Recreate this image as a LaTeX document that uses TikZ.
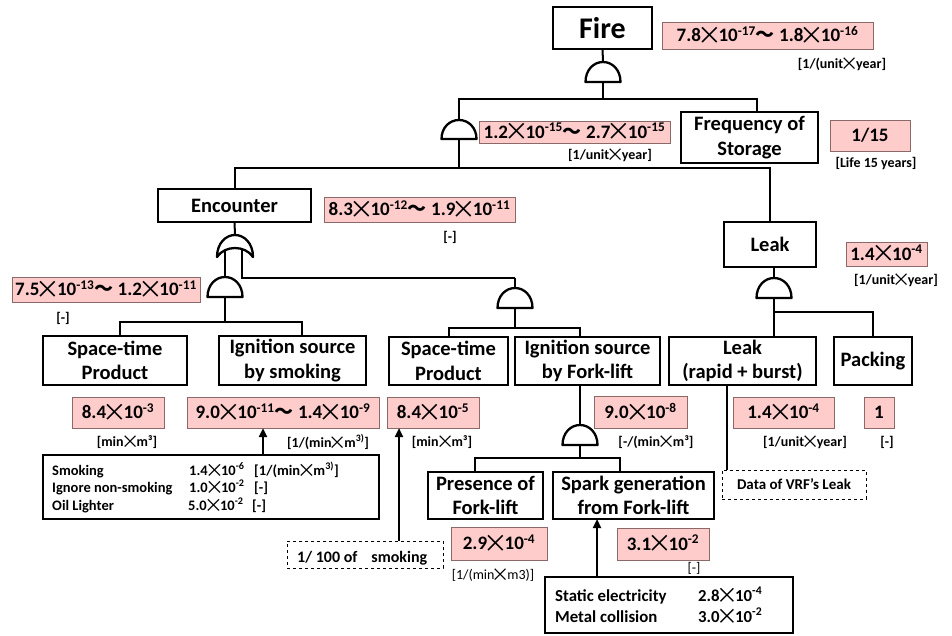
\documentclass[tikz,border=0pt]{standalone}
\usepackage{fontspec}
\usepackage{graphicx}
\setmainfont{Carlito}
\newfontfamily\cjk{Noto Sans CJK JP}
\usetikzlibrary{arrows.meta}
\newcommand\X{\makebox[0.92em]{\raisebox{-0.14em}{\scalebox{1.3}{\cjk\mdseries ×}}}}
\newcommand\W{{\cjk ～}}
\newcommand\E[1]{\textsuperscript{#1}}
\definecolor{pkfill}{RGB}{255,204,204}
\definecolor{pkline}{RGB}{140,105,105}
\newcommand\cbox[7]{\node[#2, minimum width={#5-#3}, minimum height={#6-#4}] (#1) at ({(#3+#5)/2},{(#4+#6)/2}) {#7};}
\newcommand\andg[4]{%
  \draw[gate] ({#2-17.5},#4) .. controls ({#2-17.5},{#4-0.6*(#4-#3)}) and ({#2-9.5},#3) .. (#2,#3) .. controls ({#2+9.5},#3) and ({#2+17.5},{#4-0.6*(#4-#3)}) .. ({#2+17.5},#4) -- cycle;
  \coordinate (#1-t) at (#2,#3); \coordinate (#1-b) at (#2,#4);}
\newcommand\org[4]{%
  \draw[gate] ({#2-18},#4) .. controls ({#2-18},{#3+8}) and ({#2-9},#3) .. (#2,#3) .. controls ({#2+9},#3) and ({#2+18},{#3+8}) .. ({#2+18},#4) .. controls ({#2+10},{#4-12}) and ({#2-10},{#4-12}) .. ({#2-18},#4) -- cycle;
  \coordinate (#1-t) at (#2,#3);}
\tikzset{
  ev/.style={draw, line width=1.3pt, fill=white, inner sep=0pt, outer sep=0pt, align=center, font=\bfseries\fontsize{20.5}{24.5}\selectfont},
  pk/.style={draw=pkline, fill=pkfill, line width=0.9pt, inner sep=0pt, outer sep=0pt, font=\bfseries\fontsize{19}{22}\selectfont},
  un/.style={inner sep=0pt, font=\bfseries\fontsize{14}{16}\selectfont},
  unr/.style={inner sep=0pt, font=\fontsize{14}{16}\selectfont},
  dbox/.style={draw, line width=1.1pt, fill=white, inner sep=0pt, outer sep=0pt},
  dsh/.style={draw, dashed, line width=0.9pt, fill=white, inner sep=0pt, outer sep=0pt},
  tx/.style={inner sep=0pt, anchor=base west, font=\bfseries\fontsize{14.5}{16}\selectfont},
  txb/.style={inner sep=0pt, anchor=base west, font=\bfseries\fontsize{16.8}{19}\selectfont},
  tree/.style={line width=2pt},
  thk/.style={line width=2.8pt},
  gate/.style={draw, line width=2.3pt, fill=white, line join=round},
  arr/.style={line width=2.4pt, -{Triangle[length=9pt,width=8pt]}},
}
\begin{document}
\begin{tikzpicture}[x=1pt,y=-1pt]
\fill[white] (0,0) rectangle (952,635);
\useasboundingbox (0,0) rectangle (952,635);

% ---- event boxes
\cbox{Fire}{ev,font=\bfseries\fontsize{30}{34}\selectfont}{553}{7}{652}{49}{Fire}
\cbox{Freq}{ev}{681}{112}{818}{163}{Frequency of\\Storage}
\cbox{Enc}{ev}{158}{189}{311}{222}{Encounter}
\cbox{Leak}{ev}{724}{222}{816}{267}{Leak}
\cbox{STPa}{ev}{43}{336}{187}{385}{Space-time\\Product}
\cbox{IgnS}{ev}{219}{336}{366}{385}{Ignition source\\by smoking}
\cbox{STPb}{ev}{389}{337}{508}{385}{Space-time\\Product}
\cbox{IgnF}{ev}{515}{337}{660}{385}{Ignition source\\by Fork-lift}
\cbox{LRB}{ev}{669}{337}{816}{385}{Leak\\(rapid + burst)}
\cbox{Pack}{ev}{834}{337}{912}{385}{Packing}
\cbox{Pres}{ev}{428}{472}{543}{519}{Presence of\\Fork-lift}
\cbox{Spark}{ev}{553}{472}{714}{519}{Spark generation\\from Fork-lift}

% ---- pink value boxes
\cbox{Pfire}{pk}{662}{22}{873}{49}{7.8\X10\E{-17}\W\ 1.8\X10\E{-16}}
\cbox{Pand}{pk}{479}{121}{670}{143}{1.2\X10\E{-15}\W\ 2.7\X10\E{-15}}
\cbox{Pfreq}{pk}{830}{120}{910}{151}{1/15}
\cbox{Penc}{pk}{324}{197}{515}{222}{8.3\X10\E{-12}\W\ 1.9\X10\E{-11}}
\cbox{Pleak}{pk}{846}{242}{927}{266}{1.4\X10\E{-4}}
\cbox{Pa2}{pk}{12}{277}{200}{302}{7.5\X10\E{-13}\W\ 1.2\X10\E{-11}}
\cbox{Pstpa}{pk}{72}{397}{164}{428}{8.4\X10\E{-3}}
\cbox{Pign}{pk}{187}{397}{379}{428}{9.0\X10\E{-11}\W\ 1.4\X10\E{-9}}
\cbox{Pstpb}{pk}{387}{397}{479}{428}{8.4\X10\E{-5}}
\cbox{Pfork}{pk}{594}{396}{687}{428}{9.0\X10\E{-8}}
\cbox{Plrb}{pk}{733}{397}{834}{428}{1.4\X10\E{-4}}
\cbox{Ppack}{pk}{864}{397}{894}{428}{1}
\cbox{Ppres}{pk}{451}{527}{547}{560}{2.9\X10\E{-4}}
\cbox{Pspark}{pk}{617}{528}{709}{560}{3.1\X10\E{-2}}

% ---- unit labels
\node[un] (u1) at (842,64) {[1/(unit\X year]};
\node[un] (u2) at (610,155) {[1/unit\X year]};
\node[un] (u3) at (876,163) {[Life 15 years]};
\node[un] (u4) at (450,237) {[-]};
\node[un] (u5) at (896,280) {[1/unit\X year]};
\node[un] (u6) at (63,318) {[-]};
\node[un] (u7) at (127,442) {[min\X m³]};
\node[un] (u8) at (328,442) {[1/(min\X m\E{3)}]};
\node[un] (u9) at (442,442) {[min\X m³]};
\node[un] (u10) at (656,442) {[-/(min\X m³]};
\node[un] (u11) at (805,442) {[1/unit\X year]};
\node[un] (u12) at (887,442) {[-]};
\node[unr] (u13) at (493,575) {[1/(min\X m3)]};
\node[unr] (u14) at (694,568) {[-]};

% ---- detail boxes
\cbox{Smk}{dbox}{43}{455}{379}{519}{}
\node[tx] (s1a) at (52,475) {Smoking};
\node[tx] (s1b) at (189,475) {1.4\X10\E{-6}};
\node[tx] (s1c) at (254,475) {[1/(min\X m\E{3)}]};
\node[tx] (s2a) at (52,492) {Ignore non-smoking};
\node[tx] (s2b) at (189,492) {1.0\X10\E{-2}};
\node[tx] (s2c) at (254,492) {[-]};
\node[tx] (s3a) at (52,510) {Oil Lighter};
\node[tx] (s3b) at (188,510) {5.0\X10\E{-2}};
\node[tx] (s3c) at (252,510) {[-]};

\cbox{D100}{dsh}{287}{541}{443}{568}{}
\node[tx,font=\bfseries\fontsize{16}{18}\selectfont] (d100t) at (297,562) {1/ 100 of\hspace{14pt}smoking};

\cbox{Stat}{dbox}{545}{577}{793}{633}{}
\node[txb] (t1a) at (555,601) {Static electricity};
\node[txb] (t1b) at (698,601) {2.8\X10\E{-4}};
\node[txb] (t2a) at (555,622) {Metal collision};
\node[txb] (t2b) at (698,622) {3.0\X10\E{-2}};

\cbox{VRF}{dsh,font=\bfseries\fontsize{15}{17}\selectfont}{722}{470}{866}{499}{Data of VRF’s Leak}

% ---- gates
\andg{Gf}{603}{62}{82}
\andg{Gtl}{459}{120}{139}
\org{Go}{235}{235}{257}
\andg{Ga2}{225}{277}{297}
\andg{Ga3}{515}{288}{308}
\andg{GL}{774}{278}{298}
\andg{GF}{580}{425}{445}

% ---- junction coordinates
\coordinate (b1) at (603,99);
\coordinate (b2) at (459,168);
\coordinate (oL) at (225,250);
\coordinate (oR) at (242,250);
\coordinate (b3) at (515,278);
\coordinate (b4) at (225,322);
\coordinate (b5) at (515,328);
\coordinate (b6) at (774,312);
\coordinate (b7) at (580,458);

% ---- connectors
\draw[tree] (Fire.south) -- (Gf-t);
\draw[tree] (Gf-b) -- (b1);
\draw[tree] (Gtl-t) |- (b1) -| ([xshift=7pt]Freq.north);
\draw[tree] (Gtl-b) -- (b2);
\draw[tree] (Enc.north) |- (b2) -| (Leak.north);
\draw[tree] (Enc.south) -- (Go-t);
\draw[thk] (oL) -- (Ga2-t);
\draw[thk] (oR) |- (b3);
\draw[tree] (b3) -- (Ga3-t);
\draw[thk] (Ga2-b) -- (b4);
\draw[tree] ([xshift=5pt]STPa.north) |- (b4) -| ([xshift=9.5pt]IgnS.north);
\draw[tree] (Ga3-b) -- (b5);
\draw[tree] (STPb.north) |- (b5) -| ([xshift=-7.5pt]IgnF.north);
\draw[tree] ([xshift=4pt]Leak.south) -- (GL-t);
\draw[tree] (GL-b) -- ([xshift=31.5pt]LRB.north);
\draw[tree] (b6) -| (Pack.north);
\draw[thk] ([xshift=-7.5pt]IgnF.south) -- (GF-t);
\draw[tree] (GF-b) -- (b7);
\draw[tree] ([xshift=-10.5pt]Pres.north) |- (b7) -| ([xshift=-13.5pt]Spark.north);

% ---- arrows
\draw[arr] ([xshift=52pt]Smk.north) -- ([xshift=52pt]Smk.north |- Pign.south);
\draw[arr] ([xshift=34pt]D100.north) -- ([xshift=34pt]D100.north |- Pstpb.south);
\draw[arr] ([xshift=-72pt]Stat.north) -- ([xshift=-72pt]Stat.north |- Spark.south);
\draw[line width=2.4pt] ([xshift=-67pt]VRF.north) -- ([xshift=-67pt]VRF.north |- LRB.south);
\end{tikzpicture}
\end{document}
